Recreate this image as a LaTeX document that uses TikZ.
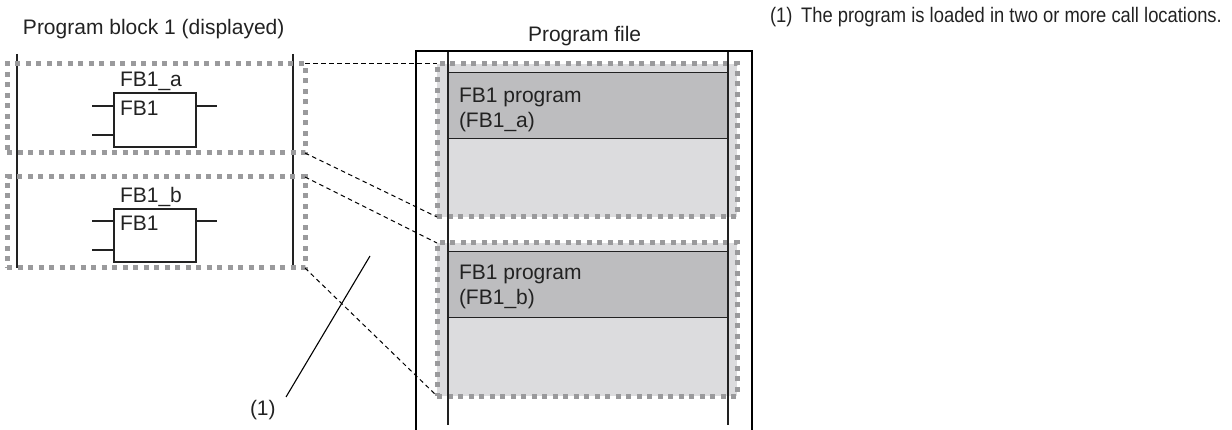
\documentclass[tikz,border=0pt]{standalone}
\usepackage{fontspec}
\setmainfont{Liberation Sans}
\definecolor{dotgray}{HTML}{9A9A9C}
\definecolor{darkfill}{HTML}{BDBDBF}
\definecolor{lightfill}{HTML}{DCDCDE}
\definecolor{ink}{HTML}{222222}
\tikzset{
  dotbox/.style={draw=dotgray, line width=5pt, dash pattern=on 5pt off 5.5pt, inner sep=0pt, outer sep=0pt},
  bandbox/.style={draw=ink, line width=1pt, fill=darkfill, inner sep=0pt, outer sep=0pt, minimum width=280pt, minimum height=66pt},
  fbbox/.style={draw=ink, line width=1.5pt, inner sep=0pt, outer sep=0pt, minimum width=82pt},
  txt/.style={inner sep=0pt, outer sep=0pt, font=\fontsize{21}{25}\selectfont, text=ink},
  pinline/.style={draw=ink, line width=1.5pt},
  rail/.style={draw=ink, line width=1.8pt},
  conn/.style={draw=black, line width=1pt, dash pattern=on 4.5pt off 3.5pt},
  leader/.style={draw=black, line width=1.1pt}
}
\begin{document}
\begin{tikzpicture}[x=1pt,y=-1pt]
\useasboundingbox (0,0) rectangle (1232,430);

% titles
\node[txt, anchor=base west] (t1) at (23,35) {Program block 1 (displayed)};
\node[txt, anchor=base west] (t2) at (528,42) {Program file};
\node[txt, anchor=base west] (note) at (770,23) {\scalebox{0.875}[1]{(1)\hspace{0.47em}The program is loaded in two or more call locations.}};

% left rails
\coordinate (rl1) at (17,54); \coordinate (rl2) at (17,268);
\coordinate (rr1) at (293,54); \coordinate (rr2) at (293,268);
\draw[rail] (rl1) -- (rl2);
\draw[rail] (rr1) -- (rr2);

% left dotted boxes
\node[dotbox, minimum width=298pt, minimum height=89pt] (la) at (156,108.5) {};
\node[dotbox, minimum width=298pt, minimum height=91pt] (lb) at (156,222.5) {};

% FB blocks
\node[fbbox, minimum height=54pt] (fba) at (155,120) {};
\node[fbbox, minimum height=53pt] (fbb) at (155,235.5) {};
\node[txt, anchor=base west] (fbalbl) at (120,87) {FB1\_a};
\node[txt, anchor=base west] (fbblbl) at (120,203) {FB1\_b};
\node[txt, anchor=base west] (fbatxt) at (120,116) {FB1};
\node[txt, anchor=base west] (fbbtxt) at (120,231) {FB1};

\coordinate (pa1) at (92,106); \coordinate (pa2) at (92,135); \coordinate (pa3) at (217,106);
\draw[pinline] (pa1) -- (fba.west |- pa1);
\draw[pinline] (pa2) -- (fba.west |- pa2);
\draw[pinline] (fba.east |- pa3) -- (pa3);
\coordinate (pb1) at (92,221); \coordinate (pb2) at (92,250); \coordinate (pb3) at (217,221);
\draw[pinline] (pb1) -- (fbb.west |- pb1);
\draw[pinline] (pb2) -- (fbb.west |- pb2);
\draw[pinline] (fbb.east |- pb3) -- (pb3);

% program file
\node[dotbox, fill=lightfill, minimum width=300pt, minimum height=153pt] (pa) at (587,140.5) {};
\node[dotbox, fill=lightfill, minimum width=300pt, minimum height=153pt] (pb) at (587,319.5) {};
\node[bandbox] (banda) at (588,106) {};
\node[bandbox] (bandb) at (588,285) {};
\node[txt, anchor=base west] (pta1) at (459,103) {FB1 program};
\node[txt, anchor=base west] (pta2) at (459,127.5) {(FB1\_a)};
\node[txt, anchor=base west] (ptb1) at (459,280) {FB1 program};
\node[txt, anchor=base west] (ptb2) at (459,304.5) {(FB1\_b)};

\coordinate (iv1) at (448,51); \coordinate (iv2) at (448,425);
\coordinate (iv3) at (728,51); \coordinate (iv4) at (728,425);
\draw[draw=ink, line width=1.1pt] (iv1) -- (iv2);
\draw[draw=ink, line width=1.1pt] (iv3) -- (iv4);
\coordinate (of1) at (416,432); \coordinate (of2) at (416,51);
\coordinate (of3) at (752,51); \coordinate (of4) at (752,432);
\draw[draw=black, line width=2.6pt] (of1) -- (of2) -- (of3) -- (of4);

% dashed connectors
\draw[conn] (la.north east) -- (pa.north west);
\draw[conn] (la.south east) -- (pa.south west);
\draw[conn] (lb.north east) -- (pb.north west);
\draw[conn] (lb.south east) -- (pb.south west);

% leader (1)
\node[txt, anchor=base west] (lbl) at (250,415) {(1)};
\coordinate (ld1) at (370,256); \coordinate (ld2) at (286,397);
\draw[leader] (ld1) -- (ld2);
\end{tikzpicture}
\end{document}
